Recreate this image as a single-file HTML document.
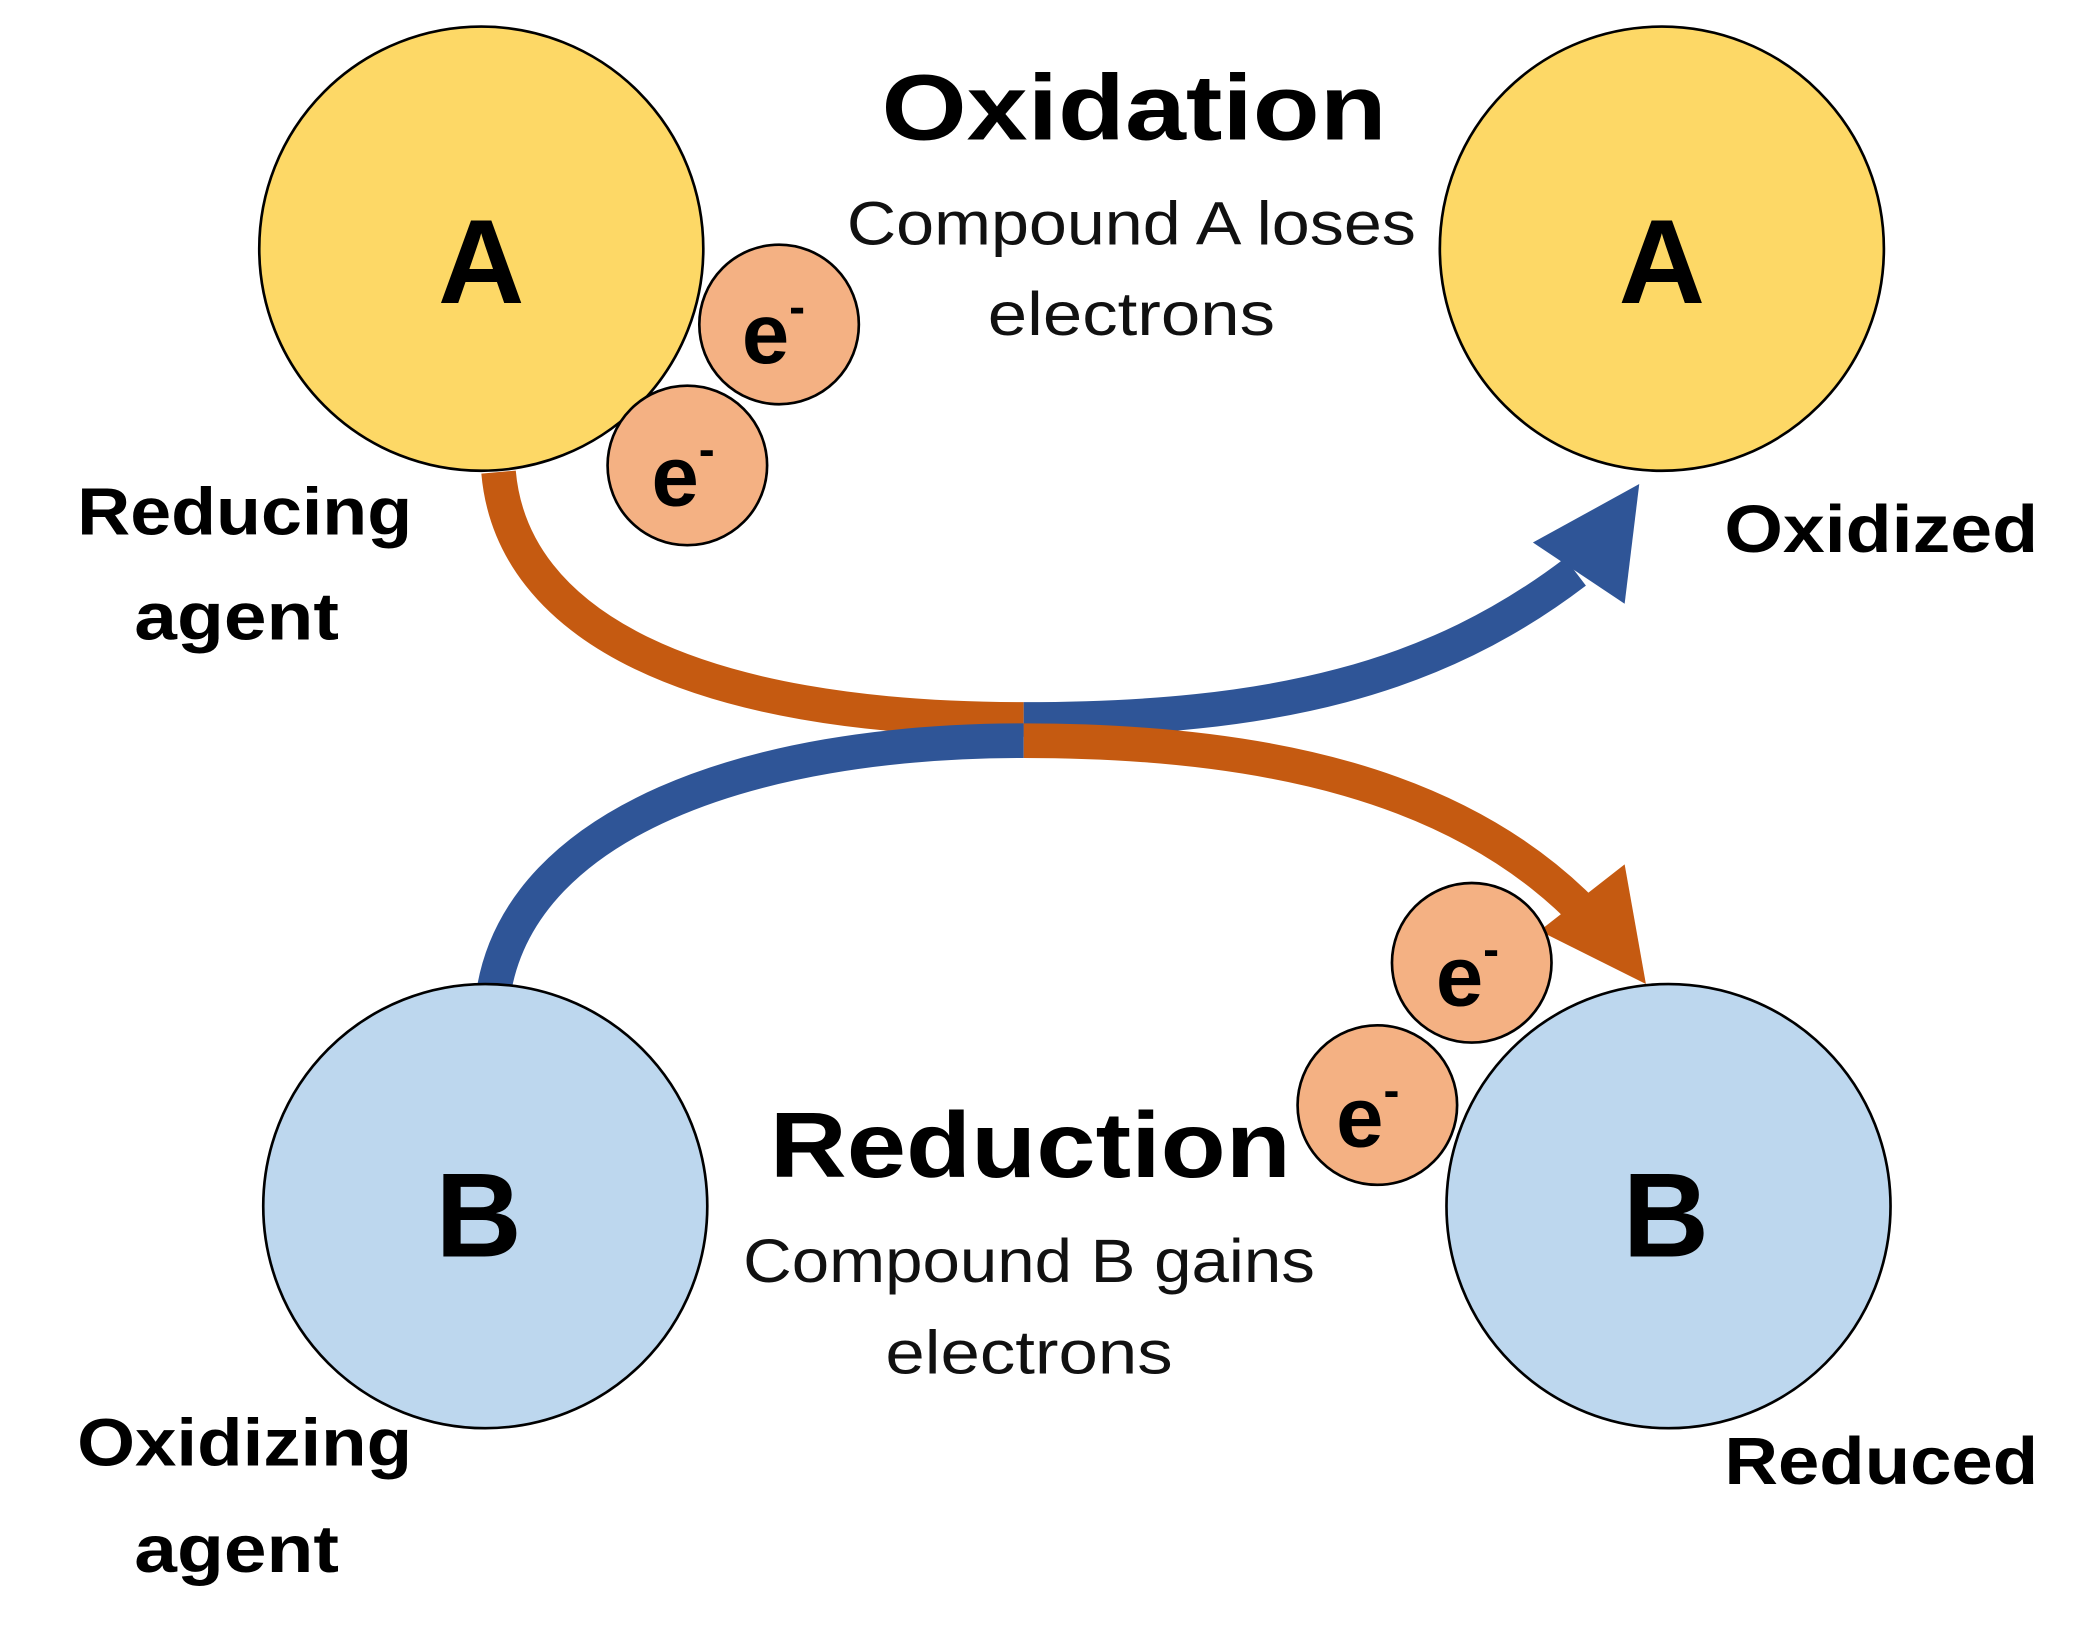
<!DOCTYPE html>
<html><head><meta charset="utf-8"><style>
html,body{margin:0;padding:0;background:#fff;}
svg{display:block;}
text{font-family:"Liberation Sans",sans-serif;}
</style></head><body>
<svg width="2074" height="1633" viewBox="0 0 1560 1228" preserveAspectRatio="none" xmlns="http://www.w3.org/2000/svg">
<rect width="1560" height="1228" fill="#fff"/>
<!-- arrows -->
<path d="M375,355 C385,470 520,541 770,541" fill="none" stroke="#c55a11" stroke-width="26"/>
<path d="M372,742 C395,620 560,557 770,557" fill="none" stroke="#2f5597" stroke-width="26"/>
<path d="M770,541 C960,541 1080,510 1185,430" fill="none" stroke="#2f5597" stroke-width="26"/>
<polygon points="1233,364 1153,408 1222,454" fill="#2f5597"/>
<path d="M770,557 C950,557 1100,590 1195,690" fill="none" stroke="#c55a11" stroke-width="26"/>
<polygon points="1238,740 1158,700 1222,650" fill="#c55a11"/>
<!-- circles -->
<circle cx="362" cy="187" r="167" fill="#fdd866" stroke="#000" stroke-width="2"/>
<circle cx="1250" cy="187" r="167" fill="#fdd866" stroke="#000" stroke-width="2"/>
<circle cx="365" cy="907" r="167" fill="#bdd7ee" stroke="#000" stroke-width="2"/>
<circle cx="1255" cy="907" r="167" fill="#bdd7ee" stroke="#000" stroke-width="2"/>
<circle cx="586" cy="244" r="60" fill="#f4b183" stroke="#000" stroke-width="2"/>
<circle cx="517" cy="350" r="60" fill="#f4b183" stroke="#000" stroke-width="2"/>
<circle cx="1107" cy="724" r="60" fill="#f4b183" stroke="#000" stroke-width="2"/>
<circle cx="1036" cy="831" r="60" fill="#f4b183" stroke="#000" stroke-width="2"/>
<g font-weight="bold" font-size="90" text-anchor="middle">
<text x="362" y="228">A</text><text x="1250" y="228">A</text>
<text x="360" y="945">B</text><text x="1253" y="945">B</text>
</g>
<g font-weight="bold" font-size="64">
<text x="558" y="273">e<tspan font-size="36" dy="-30">-</tspan></text>
<text x="490" y="380">e<tspan font-size="36" dy="-30">-</tspan></text>
<text x="1080" y="756">e<tspan font-size="36" dy="-30">-</tspan></text>
<text x="1005" y="862">e<tspan font-size="36" dy="-30">-</tspan></text>
</g>
<g font-weight="bold" font-size="70" text-anchor="middle">
<text x="853" y="105" textLength="380" lengthAdjust="spacingAndGlyphs">Oxidation</text>
<text x="775" y="885" textLength="392" lengthAdjust="spacingAndGlyphs">Reduction</text>
</g>
<g font-size="46" text-anchor="middle" fill="#111">
<text x="851" y="184" textLength="428" lengthAdjust="spacingAndGlyphs">Compound A loses</text>
<text x="851" y="252" textLength="216" lengthAdjust="spacingAndGlyphs">electrons</text>
<text x="774" y="964" textLength="430" lengthAdjust="spacingAndGlyphs">Compound B gains</text>
<text x="774" y="1033" textLength="216" lengthAdjust="spacingAndGlyphs">electrons</text>
</g>
<g font-weight="bold" font-size="50">
<text x="58" y="402" textLength="252" lengthAdjust="spacingAndGlyphs">Reducing</text>
<text x="101" y="481" textLength="154" lengthAdjust="spacingAndGlyphs">agent</text>
<text x="1297" y="415" textLength="236" lengthAdjust="spacingAndGlyphs">Oxidized</text>
<text x="58" y="1102" textLength="252" lengthAdjust="spacingAndGlyphs">Oxidizing</text>
<text x="101" y="1182" textLength="154" lengthAdjust="spacingAndGlyphs">agent</text>
<text x="1297" y="1116" textLength="236" lengthAdjust="spacingAndGlyphs">Reduced</text>
</g>
</svg>
</body></html>
